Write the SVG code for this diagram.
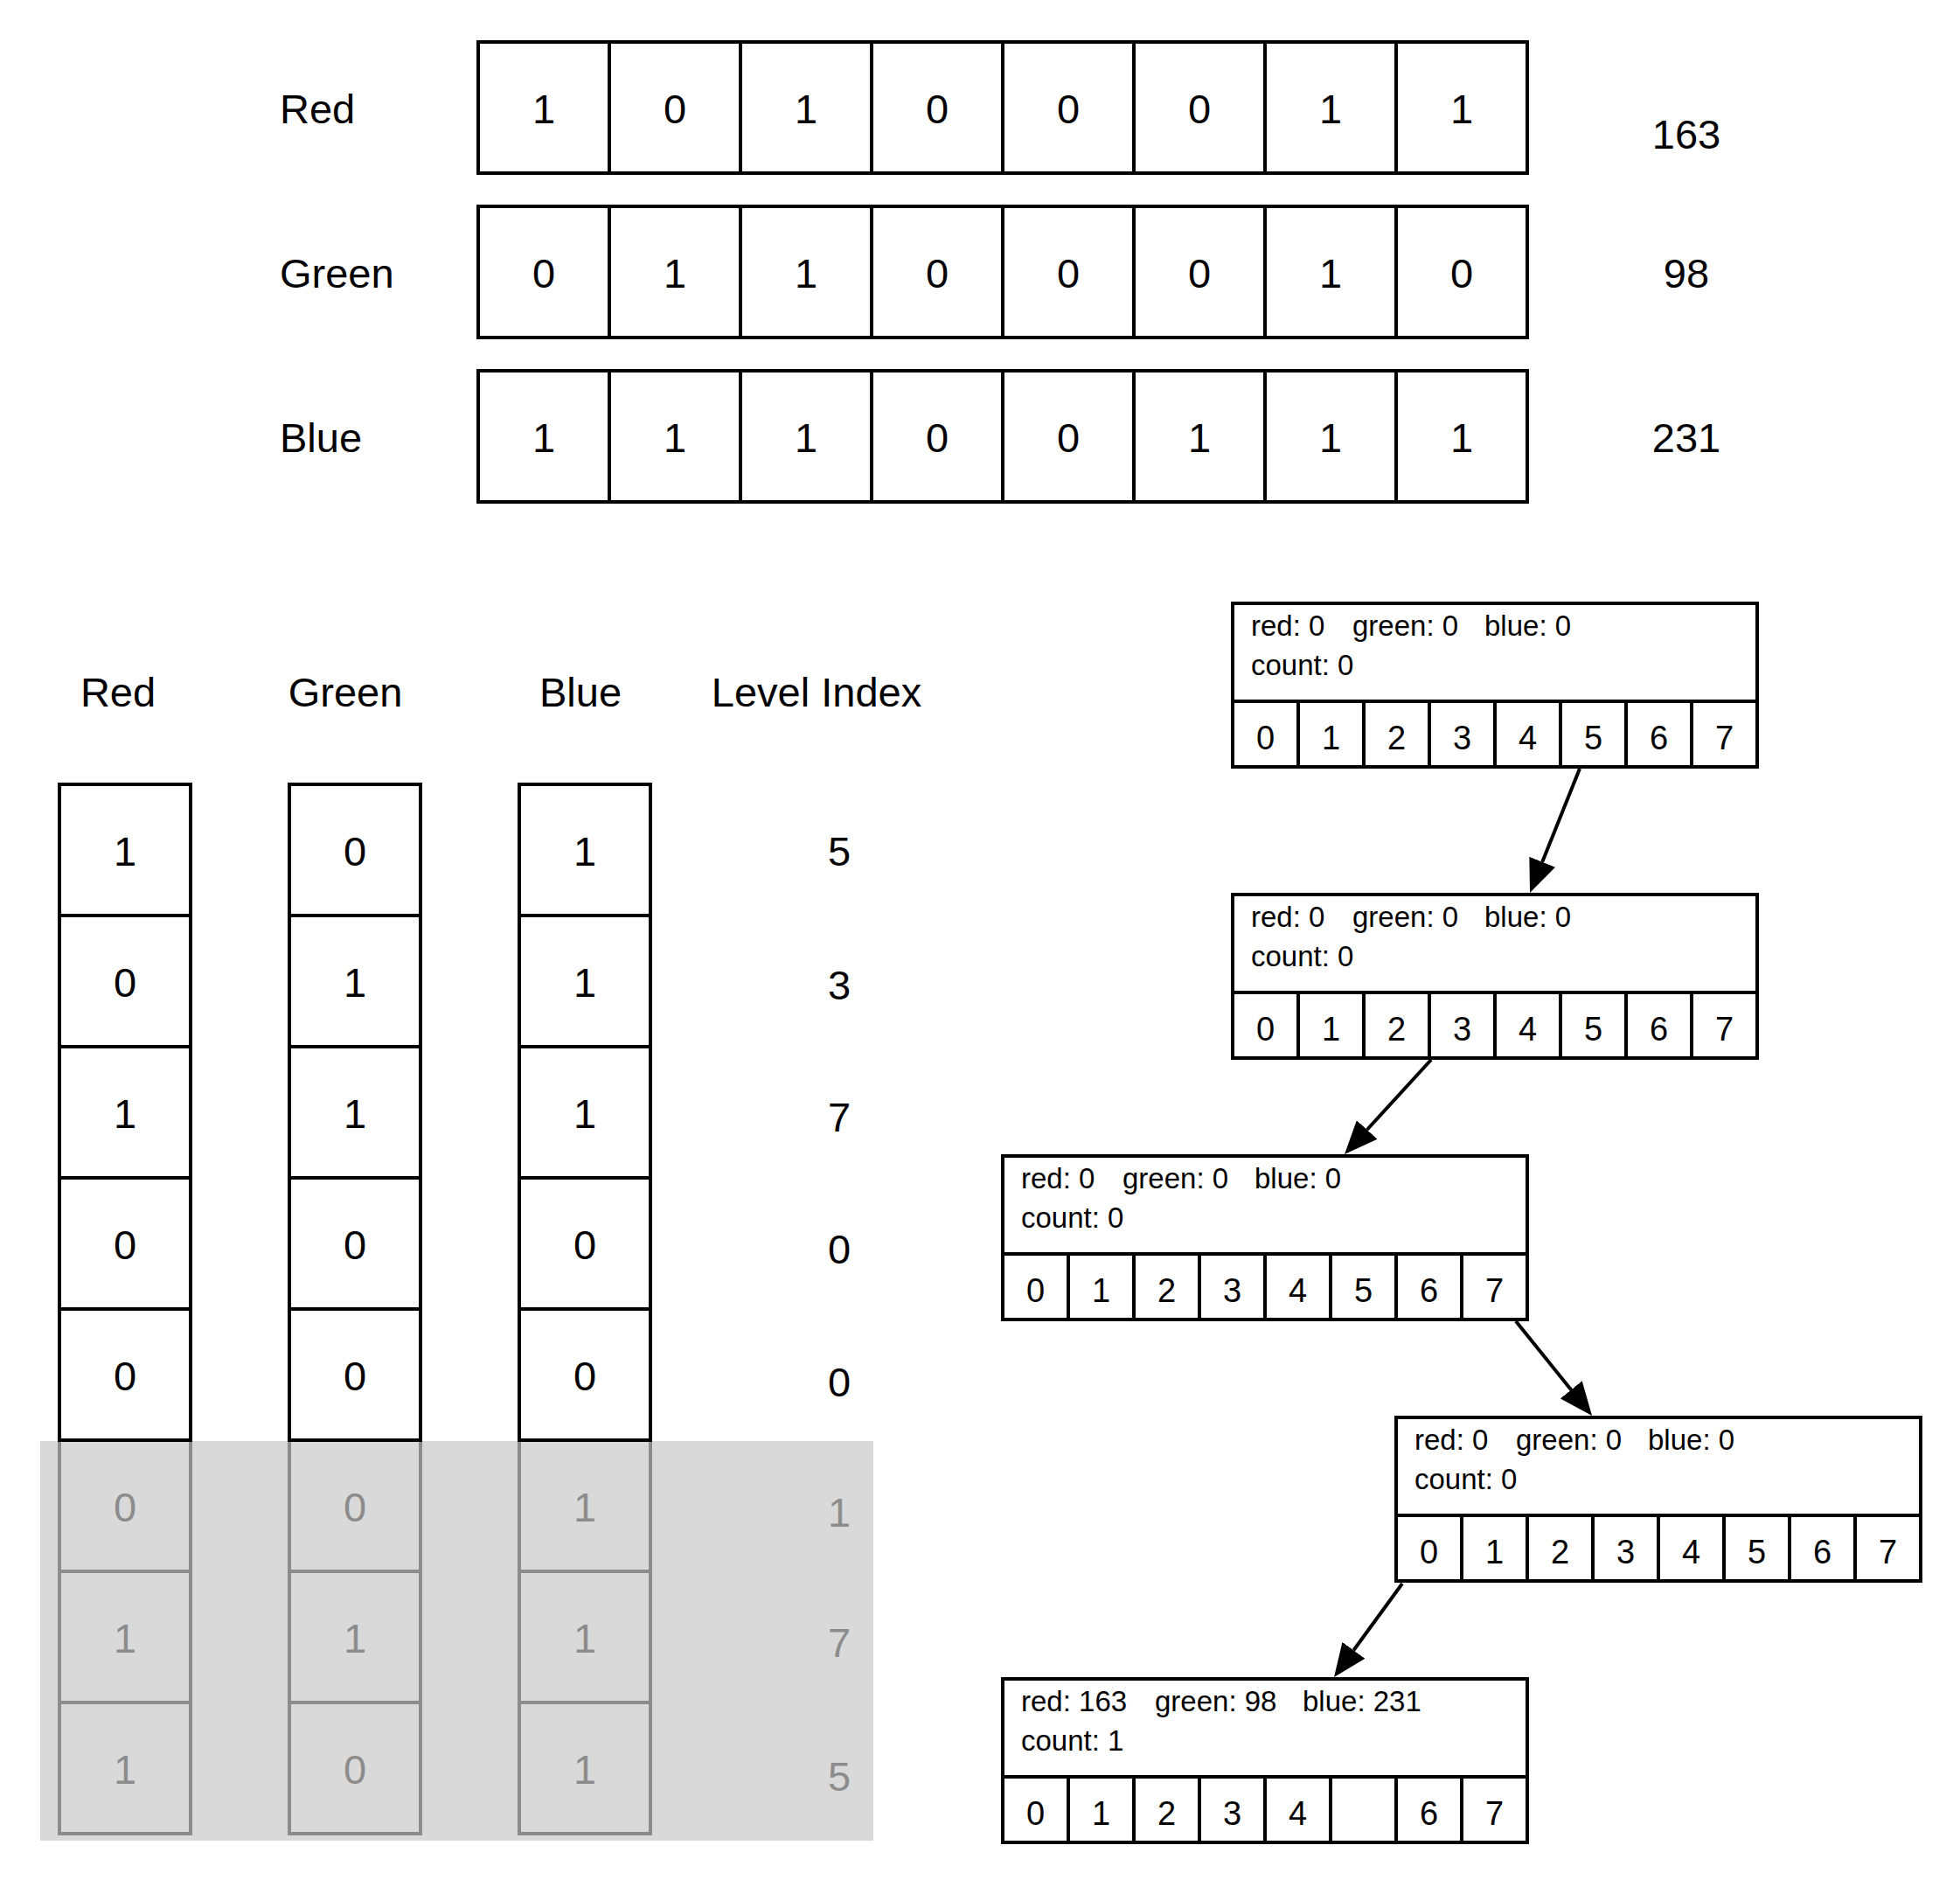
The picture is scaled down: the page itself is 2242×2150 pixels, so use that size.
<svg xmlns="http://www.w3.org/2000/svg" width="2242" height="2150" viewBox="0 0 2242 2150">
<style>
text{font-family:"Liberation Sans","DejaVu Sans",sans-serif;fill:#000}
.big{font-size:47px}
.c{text-anchor:middle}
.cell{fill:#fff;stroke:#000;stroke-width:4}
.gcell{fill:none;stroke:#8c8c8c;stroke-width:4}
.gt{fill:#8c8c8c}
.nt{font-size:33px}
.nd{font-size:38px;text-anchor:middle}
.conn{stroke:#000;stroke-width:4;fill:none}
</style>
<defs>
<marker id="ah" viewBox="0 0 38 32" refX="0" refY="16" markerWidth="38" markerHeight="32" markerUnits="userSpaceOnUse" orient="auto">
<path d="M0,0 L38,16 L0,32 z" fill="#000"/>
</marker>
</defs>
<rect width="2242" height="2150" fill="#fff"/>

<!-- Top bit rows -->
<g id="row-red">
<text class="big" x="320" y="141">Red</text>
<rect class="cell" x="547" y="48" width="150" height="150"/><rect class="cell" x="697" y="48" width="150" height="150"/><rect class="cell" x="847" y="48" width="150" height="150"/><rect class="cell" x="997" y="48" width="150" height="150"/><rect class="cell" x="1147" y="48" width="150" height="150"/><rect class="cell" x="1297" y="48" width="150" height="150"/><rect class="cell" x="1447" y="48" width="150" height="150"/><rect class="cell" x="1597" y="48" width="150" height="150"/>
<g class="big c"><text x="622" y="141">1</text><text x="772" y="141">0</text><text x="922" y="141">1</text><text x="1072" y="141">0</text><text x="1222" y="141">0</text><text x="1372" y="141">0</text><text x="1522" y="141">1</text><text x="1672" y="141">1</text></g>
<text class="big c" x="1929" y="170">163</text>
</g>
<g id="row-green">
<text class="big" x="320" y="329">Green</text>
<rect class="cell" x="547" y="236" width="150" height="150"/><rect class="cell" x="697" y="236" width="150" height="150"/><rect class="cell" x="847" y="236" width="150" height="150"/><rect class="cell" x="997" y="236" width="150" height="150"/><rect class="cell" x="1147" y="236" width="150" height="150"/><rect class="cell" x="1297" y="236" width="150" height="150"/><rect class="cell" x="1447" y="236" width="150" height="150"/><rect class="cell" x="1597" y="236" width="150" height="150"/>
<g class="big c"><text x="622" y="329">0</text><text x="772" y="329">1</text><text x="922" y="329">1</text><text x="1072" y="329">0</text><text x="1222" y="329">0</text><text x="1372" y="329">0</text><text x="1522" y="329">1</text><text x="1672" y="329">0</text></g>
<text class="big c" x="1929" y="329">98</text>
</g>
<g id="row-blue">
<text class="big" x="320" y="517">Blue</text>
<rect class="cell" x="547" y="424" width="150" height="150"/><rect class="cell" x="697" y="424" width="150" height="150"/><rect class="cell" x="847" y="424" width="150" height="150"/><rect class="cell" x="997" y="424" width="150" height="150"/><rect class="cell" x="1147" y="424" width="150" height="150"/><rect class="cell" x="1297" y="424" width="150" height="150"/><rect class="cell" x="1447" y="424" width="150" height="150"/><rect class="cell" x="1597" y="424" width="150" height="150"/>
<g class="big c"><text x="622" y="517">1</text><text x="772" y="517">1</text><text x="922" y="517">1</text><text x="1072" y="517">0</text><text x="1222" y="517">0</text><text x="1372" y="517">1</text><text x="1522" y="517">1</text><text x="1672" y="517">1</text></g>
<text class="big c" x="1929" y="517">231</text>
</g>

<!-- Bottom-left columns -->
<g id="headers" class="big c">
<text x="135" y="808">Red</text>
<text x="395" y="808">Green</text>
<text x="664" y="808">Blue</text>
<text x="934" y="808">Level Index</text>
</g>
<rect id="unused-levels" x="46" y="1648" width="953" height="457" fill="#d9d9d9"/>
<g id="col-red">
<rect class="gcell" x="68" y="1647" width="150" height="150"/><rect class="gcell" x="68" y="1797" width="150" height="150"/><rect class="gcell" x="68" y="1947" width="150" height="150"/>
<rect class="cell" x="68" y="897" width="150" height="150"/><rect class="cell" x="68" y="1047" width="150" height="150"/><rect class="cell" x="68" y="1197" width="150" height="150"/><rect class="cell" x="68" y="1347" width="150" height="150"/><rect class="cell" x="68" y="1497" width="150" height="150"/>
<g class="big c"><text x="143" y="990">1</text><text x="143" y="1140">0</text><text x="143" y="1290">1</text><text x="143" y="1440">0</text><text x="143" y="1590">0</text></g>
<g class="big c"><text class="gt" x="143" y="1740">0</text><text class="gt" x="143" y="1890">1</text><text class="gt" x="143" y="2040">1</text></g>
</g>
<g id="col-green">
<rect class="gcell" x="331" y="1647" width="150" height="150"/><rect class="gcell" x="331" y="1797" width="150" height="150"/><rect class="gcell" x="331" y="1947" width="150" height="150"/>
<rect class="cell" x="331" y="897" width="150" height="150"/><rect class="cell" x="331" y="1047" width="150" height="150"/><rect class="cell" x="331" y="1197" width="150" height="150"/><rect class="cell" x="331" y="1347" width="150" height="150"/><rect class="cell" x="331" y="1497" width="150" height="150"/>
<g class="big c"><text x="406" y="990">0</text><text x="406" y="1140">1</text><text x="406" y="1290">1</text><text x="406" y="1440">0</text><text x="406" y="1590">0</text></g>
<g class="big c"><text class="gt" x="406" y="1740">0</text><text class="gt" x="406" y="1890">1</text><text class="gt" x="406" y="2040">0</text></g>
</g>
<g id="col-blue">
<rect class="gcell" x="594" y="1647" width="150" height="150"/><rect class="gcell" x="594" y="1797" width="150" height="150"/><rect class="gcell" x="594" y="1947" width="150" height="150"/>
<rect class="cell" x="594" y="897" width="150" height="150"/><rect class="cell" x="594" y="1047" width="150" height="150"/><rect class="cell" x="594" y="1197" width="150" height="150"/><rect class="cell" x="594" y="1347" width="150" height="150"/><rect class="cell" x="594" y="1497" width="150" height="150"/>
<g class="big c"><text x="669" y="990">1</text><text x="669" y="1140">1</text><text x="669" y="1290">1</text><text x="669" y="1440">0</text><text x="669" y="1590">0</text></g>
<g class="big c"><text class="gt" x="669" y="1740">1</text><text class="gt" x="669" y="1890">1</text><text class="gt" x="669" y="2040">1</text></g>
</g>
<g id="col-level" class="big c">
<text x="960" y="990">5</text><text x="960" y="1143">3</text><text x="960" y="1294">7</text><text x="960" y="1445">0</text><text x="960" y="1597">0</text>
<text class="gt" x="960" y="1746">1</text><text class="gt" x="960" y="1895">7</text><text class="gt" x="960" y="2048">5</text>
</g>

<!-- Tree nodes -->
<g id="node1" transform="translate(1410,690)">
<rect class="cell" x="0" y="0" width="600" height="112"/>
<rect class="cell" x="0" y="112" width="75" height="75"/><rect class="cell" x="75" y="112" width="75" height="75"/><rect class="cell" x="150" y="112" width="75" height="75"/><rect class="cell" x="225" y="112" width="75" height="75"/><rect class="cell" x="300" y="112" width="75" height="75"/><rect class="cell" x="375" y="112" width="75" height="75"/><rect class="cell" x="450" y="112" width="75" height="75"/><rect class="cell" x="525" y="112" width="75" height="75"/>
<text class="nt" y="37"><tspan x="21">red: 0</tspan><tspan x="137">green: 0</tspan><tspan x="288">blue: 0</tspan></text>
<text class="nt" x="21" y="82">count: 0</text>
<text class="nd" x="37.5" y="167">0</text><text class="nd" x="112.5" y="167">1</text><text class="nd" x="187.5" y="167">2</text><text class="nd" x="262.5" y="167">3</text><text class="nd" x="337.5" y="167">4</text><text class="nd" x="412.5" y="167">5</text><text class="nd" x="487.5" y="167">6</text><text class="nd" x="562.5" y="167">7</text>
</g>
<g id="node2" transform="translate(1410,1023)">
<rect class="cell" x="0" y="0" width="600" height="112"/>
<rect class="cell" x="0" y="112" width="75" height="75"/><rect class="cell" x="75" y="112" width="75" height="75"/><rect class="cell" x="150" y="112" width="75" height="75"/><rect class="cell" x="225" y="112" width="75" height="75"/><rect class="cell" x="300" y="112" width="75" height="75"/><rect class="cell" x="375" y="112" width="75" height="75"/><rect class="cell" x="450" y="112" width="75" height="75"/><rect class="cell" x="525" y="112" width="75" height="75"/>
<text class="nt" y="37"><tspan x="21">red: 0</tspan><tspan x="137">green: 0</tspan><tspan x="288">blue: 0</tspan></text>
<text class="nt" x="21" y="82">count: 0</text>
<text class="nd" x="37.5" y="167">0</text><text class="nd" x="112.5" y="167">1</text><text class="nd" x="187.5" y="167">2</text><text class="nd" x="262.5" y="167">3</text><text class="nd" x="337.5" y="167">4</text><text class="nd" x="412.5" y="167">5</text><text class="nd" x="487.5" y="167">6</text><text class="nd" x="562.5" y="167">7</text>
</g>
<g id="node3" transform="translate(1147,1322)">
<rect class="cell" x="0" y="0" width="600" height="112"/>
<rect class="cell" x="0" y="112" width="75" height="75"/><rect class="cell" x="75" y="112" width="75" height="75"/><rect class="cell" x="150" y="112" width="75" height="75"/><rect class="cell" x="225" y="112" width="75" height="75"/><rect class="cell" x="300" y="112" width="75" height="75"/><rect class="cell" x="375" y="112" width="75" height="75"/><rect class="cell" x="450" y="112" width="75" height="75"/><rect class="cell" x="525" y="112" width="75" height="75"/>
<text class="nt" y="37"><tspan x="21">red: 0</tspan><tspan x="137">green: 0</tspan><tspan x="288">blue: 0</tspan></text>
<text class="nt" x="21" y="82">count: 0</text>
<text class="nd" x="37.5" y="167">0</text><text class="nd" x="112.5" y="167">1</text><text class="nd" x="187.5" y="167">2</text><text class="nd" x="262.5" y="167">3</text><text class="nd" x="337.5" y="167">4</text><text class="nd" x="412.5" y="167">5</text><text class="nd" x="487.5" y="167">6</text><text class="nd" x="562.5" y="167">7</text>
</g>
<g id="node4" transform="translate(1597,1621)">
<rect class="cell" x="0" y="0" width="600" height="112"/>
<rect class="cell" x="0" y="112" width="75" height="75"/><rect class="cell" x="75" y="112" width="75" height="75"/><rect class="cell" x="150" y="112" width="75" height="75"/><rect class="cell" x="225" y="112" width="75" height="75"/><rect class="cell" x="300" y="112" width="75" height="75"/><rect class="cell" x="375" y="112" width="75" height="75"/><rect class="cell" x="450" y="112" width="75" height="75"/><rect class="cell" x="525" y="112" width="75" height="75"/>
<text class="nt" y="37"><tspan x="21">red: 0</tspan><tspan x="137">green: 0</tspan><tspan x="288">blue: 0</tspan></text>
<text class="nt" x="21" y="82">count: 0</text>
<text class="nd" x="37.5" y="167">0</text><text class="nd" x="112.5" y="167">1</text><text class="nd" x="187.5" y="167">2</text><text class="nd" x="262.5" y="167">3</text><text class="nd" x="337.5" y="167">4</text><text class="nd" x="412.5" y="167">5</text><text class="nd" x="487.5" y="167">6</text><text class="nd" x="562.5" y="167">7</text>
</g>
<g id="node5" transform="translate(1147,1920)">
<rect class="cell" x="0" y="0" width="600" height="112"/>
<rect class="cell" x="0" y="112" width="75" height="75"/><rect class="cell" x="75" y="112" width="75" height="75"/><rect class="cell" x="150" y="112" width="75" height="75"/><rect class="cell" x="225" y="112" width="75" height="75"/><rect class="cell" x="300" y="112" width="75" height="75"/><rect class="cell" x="375" y="112" width="75" height="75"/><rect class="cell" x="450" y="112" width="75" height="75"/><rect class="cell" x="525" y="112" width="75" height="75"/>
<text class="nt" y="37"><tspan x="21">red: 163</tspan><tspan x="174">green: 98</tspan><tspan x="343">blue: 231</tspan></text>
<text class="nt" x="21" y="82">count: 1</text>
<text class="nd" x="37.5" y="167">0</text><text class="nd" x="112.5" y="167">1</text><text class="nd" x="187.5" y="167">2</text><text class="nd" x="262.5" y="167">3</text><text class="nd" x="337.5" y="167">4</text><text class="nd" x="487.5" y="167">6</text><text class="nd" x="562.5" y="167">7</text>
</g>

<!-- Connectors -->
<g id="connectors">
<line class="conn" x1="1807" y1="879" x2="1764.2" y2="985.7" marker-end="url(#ah)"/>
<line class="conn" x1="1637" y1="1212" x2="1563.7" y2="1292" marker-end="url(#ah)"/>
<line class="conn" x1="1734" y1="1511" x2="1797.2" y2="1589.4" marker-end="url(#ah)"/>
<line class="conn" x1="1604" y1="1811" x2="1548.4" y2="1887.3" marker-end="url(#ah)"/>
</g>
</svg>
